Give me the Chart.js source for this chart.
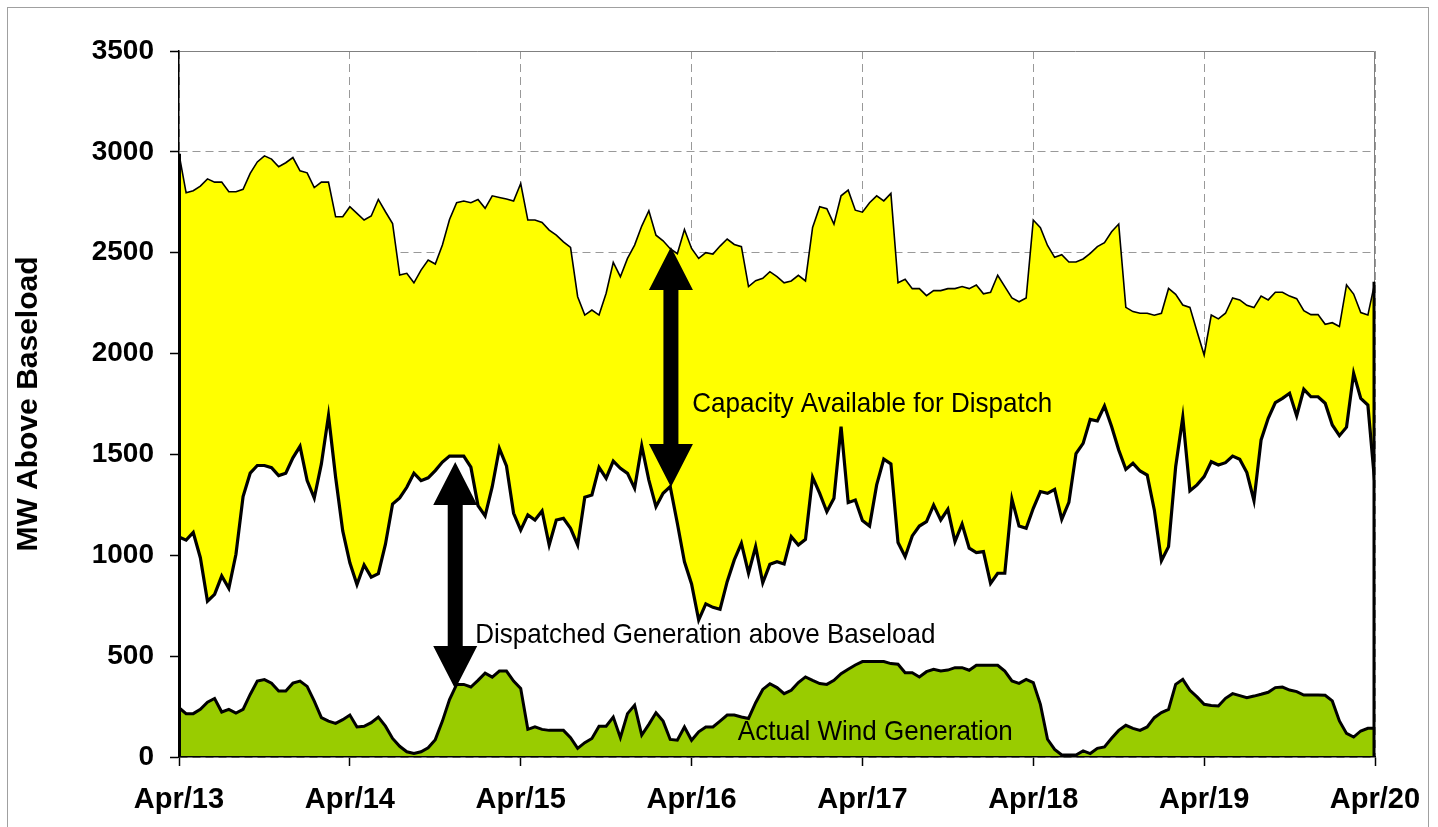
<!DOCTYPE html>
<html lang="en">
<head>
<meta charset="UTF-8">
<title>MW Above Baseload</title>
<style>
  body { margin: 0; background: #fff; }
  #wrap { width: 1438px; height: 827px; }
</style>
</head>
<body>
<div id="wrap"><canvas id="chart" width="1438" height="827"></canvas></div>
<script src="https://cdn.jsdelivr.net/npm/chart.js@4"></script>
<script>
// day labels for the x axis (one tick every 24 hours)
const dayLabels = ['Apr/13', 'Apr/14', 'Apr/15', 'Apr/16', 'Apr/17', 'Apr/18', 'Apr/19', 'Apr/20'];

// hourly values, hour 0 .. 168
const capacity = [
  2990, 2797, 2807, 2830, 2866, 2850, 2850, 2802, 2802, 2814, 2893, 2950, 2980, 2964, 2926, 2946, 2972, 2906, 2896, 2823, 2850, 2850, 2678, 2678, 2728,
  2695, 2662, 2682, 2764, 2703, 2645, 2389, 2398, 2351, 2414, 2464, 2444, 2538, 2665, 2748, 2756, 2748, 2764, 2720, 2782, 2774, 2766, 2756, 2843,
  2662, 2662, 2650, 2612, 2587, 2554, 2526, 2282, 2191, 2216, 2191, 2299, 2452, 2381, 2472, 2538, 2632, 2708, 2587, 2559, 2520, 2495, 2615, 2521,
  2472, 2500, 2493, 2533, 2568, 2541, 2530, 2332, 2361, 2373, 2406, 2381, 2351, 2360, 2388, 2360, 2625, 2728, 2718, 2642, 2782, 2810, 2711, 2701,
  2748, 2782, 2757, 2794, 2351, 2368, 2322, 2322, 2287, 2312, 2312, 2322, 2322, 2332, 2322, 2340, 2296, 2304, 2388, 2332, 2276, 2257, 2276, 2662,
  2624, 2536, 2477, 2490, 2454, 2454, 2469, 2497, 2530, 2550, 2604, 2642, 2229, 2208, 2200, 2200, 2190, 2200, 2323, 2294, 2241, 2229, 2109, 1993,
  2191, 2172, 2200, 2276, 2266, 2239, 2228, 2285, 2266, 2304, 2304, 2285, 2272, 2213, 2193, 2193, 2145, 2153, 2134, 2340, 2295, 2203, 2191, 2356
];

const dispatched = [
  1091, 1075, 1113, 988, 772, 806, 897, 836, 1005, 1291, 1407, 1445, 1445, 1434, 1395, 1407, 1483, 1540, 1370, 1284, 1453, 1693, 1387, 1121, 963,
  855, 952, 892, 909, 1055, 1254, 1284, 1337, 1407, 1370, 1384, 1420, 1462, 1492, 1492, 1492, 1437, 1246, 1195, 1340, 1530, 1443, 1208, 1125,
  1200, 1175, 1220, 1051, 1175, 1183, 1134, 1051, 1288, 1299, 1436, 1382, 1467, 1431, 1406, 1332, 1542, 1373, 1241, 1307, 1340, 1159, 968, 858,
  679, 759, 742, 732, 869, 977, 1059, 911, 1043, 864, 955, 968, 957, 1092, 1051, 1079, 1387, 1307, 1216, 1283, 1638, 1261, 1274, 1172,
  1145, 1349, 1477, 1453, 1063, 993, 1096, 1145, 1167, 1249, 1175, 1228, 1068, 1155, 1035, 1013, 1018, 861, 911, 911, 1278, 1145, 1134, 1233,
  1316, 1307, 1327, 1178, 1262, 1504, 1555, 1674, 1666, 1740, 1638, 1522, 1426, 1456, 1418, 1398, 1225, 973, 1043, 1439, 1684, 1320, 1349, 1390,
  1464, 1448, 1459, 1492, 1476, 1410, 1271, 1572, 1679, 1757, 1778, 1803, 1691, 1823, 1786, 1786, 1754, 1646, 1593, 1635, 1902, 1778, 1745, 1345
];

const wind = [
  244, 215, 215, 236, 272, 290, 223, 236, 218, 236, 310, 376, 384, 366, 327, 327, 366, 376, 350, 277, 195, 178, 167, 185, 208,
  149, 152, 170, 198, 153, 92, 53, 26, 17, 26, 46, 86, 178, 285, 360, 360, 347, 380, 416, 396, 426, 426, 376, 340,
  137, 149, 137, 132, 132, 132, 96, 43, 71, 92, 153, 153, 198, 96, 215, 257, 109, 162, 219, 178, 87, 83, 149, 83,
  125, 149, 149, 178, 208, 208, 198, 191, 269, 335, 363, 344, 314, 331, 369, 397, 380, 364, 360, 380, 413, 435, 456, 473,
  473, 473, 473, 463, 460, 418, 418, 397, 423, 435, 426, 431, 443, 443, 430, 455, 455, 455, 455, 426, 377, 365, 385, 369,
  261, 88, 38, 10, 10, 10, 30, 17, 43, 50, 93, 132, 157, 142, 132, 149, 195, 220, 236, 360, 385, 331, 298, 261,
  255, 253, 291, 314, 304, 294, 302, 311, 321, 344, 347, 332, 324, 307, 307, 307, 306, 278, 179, 117, 99, 129, 142, 142
];

const hours = capacity.map((v, i) => i);

// annotation arrows and texts, in data units (hour, MW)
const arrows = [
  { hour: 69.1, top: 2528, bottom: 1339 },
  { hour: 38.8, top: 1463, bottom: 337 }
];
const notes = [
  { text: 'Capacity Available for Dispatch', hour: 72.1, mw: 1710 },
  { text: 'Dispatched Generation above Baseload', hour: 41.6, mw: 565 },
  { text: 'Actual Wind Generation', hour: 78.5, mw: 84 }
];

const FONT = '"Liberation Sans", Arial, Helvetica, sans-serif';
Chart.defaults.font.family = FONT;
Chart.defaults.color = '#000';

const decor = {
  id: 'decor',
  beforeDatasetsDraw(chart) {
    const { ctx, chartArea: a } = chart;
    ctx.save();
    ctx.strokeStyle = '#808080';
    ctx.lineWidth = 1;
    ctx.beginPath();
    ctx.moveTo(a.left, a.top + 0.5);
    ctx.lineTo(a.right - 0.5, a.top + 0.5);
    ctx.lineTo(a.right - 0.5, a.bottom);
    ctx.stroke();
    ctx.restore();
  },
  afterDatasetsDraw(chart) {
    const { ctx, scales: { x, y } } = chart;
    ctx.save();
    // closing edges of the area shapes
    ctx.strokeStyle = '#000';
    ctx.lineWidth = 3;
    const last = capacity.length - 1;
    ctx.beginPath();
    ctx.moveTo(x.getPixelForValue(last) - 1, y.getPixelForValue(capacity[last]));
    ctx.lineTo(x.getPixelForValue(last) - 1, y.getPixelForValue(0));
    ctx.stroke();
    ctx.lineWidth = 2;
    ctx.beginPath();
    ctx.moveTo(x.getPixelForValue(0) + 1, y.getPixelForValue(capacity[0]));
    ctx.lineTo(x.getPixelForValue(0) + 1, y.getPixelForValue(0));
    ctx.stroke();

    // double headed arrows
    ctx.fillStyle = '#000';
    arrows.forEach(a => {
      const cx = x.getPixelForValue(a.hour);
      const t = y.getPixelForValue(a.top);
      const b = y.getPixelForValue(a.bottom);
      const hh = 43, hw = 22, sw = 7.5;
      ctx.beginPath();
      ctx.moveTo(cx, t);
      ctx.lineTo(cx + hw, t + hh);
      ctx.lineTo(cx + sw, t + hh);
      ctx.lineTo(cx + sw, b - hh);
      ctx.lineTo(cx + hw, b - hh);
      ctx.lineTo(cx, b);
      ctx.lineTo(cx - hw, b - hh);
      ctx.lineTo(cx - sw, b - hh);
      ctx.lineTo(cx - sw, t + hh);
      ctx.lineTo(cx - hw, t + hh);
      ctx.closePath();
      ctx.fill();
    });

    // texts
    ctx.font = '28px ' + FONT;
    ctx.textBaseline = 'alphabetic';
    ctx.textAlign = 'left';
    notes.forEach(n => {
      ctx.save();
      ctx.translate(x.getPixelForValue(n.hour), y.getPixelForValue(n.mw));
      ctx.scale(0.93, 1);
      ctx.fillText(n.text, 0, 0);
      ctx.restore();
    });
    ctx.restore();
  },
  afterDraw(chart) {
    const { ctx } = chart;
    ctx.save();
    ctx.strokeStyle = '#a0a0a0';
    ctx.lineWidth = 1;
    ctx.strokeRect(7.5, 7.5, 1421, 900);
    ctx.restore();
  }
};

const gridOpts = { color: '#999', lineWidth: 1, tickLength: 9, tickColor: '#000', tickWidth: 1.5 };
const borderOpts = { color: '#000', width: 1.5, dash: [8, 5], z: 1 };

new Chart(document.getElementById('chart'), {
  type: 'line',
  data: {
    labels: hours,
    datasets: [
      {
        label: 'Actual Wind Generation',
        data: wind,
        borderColor: '#000',
        borderWidth: 3,
        backgroundColor: '#99CC00',
        fill: 'origin',
        pointRadius: 0,
        tension: 0
      },
      {
        label: 'Dispatched Generation above Baseload',
        data: dispatched,
        borderColor: '#000',
        borderWidth: 3.2,
        backgroundColor: '#FFFFFF',
        fill: 'origin',
        pointRadius: 0,
        tension: 0
      },
      {
        label: 'Capacity Available for Dispatch',
        data: capacity,
        borderColor: '#000',
        borderWidth: 1.6,
        backgroundColor: '#FFFF00',
        fill: 'origin',
        pointRadius: 0,
        tension: 0
      }
    ]
  },
  options: {
    responsive: false,
    animation: false,
    events: [],
    layout: { padding: { top: 51, right: 63, left: 0, bottom: 0 } },
    plugins: {
      legend: { display: false },
      tooltip: { enabled: false }
    },
    scales: {
      x: {
        type: 'linear',
        min: 0,
        max: 168,
        grid: gridOpts,
        border: borderOpts,
        ticks: {
          stepSize: 24,
          autoSkip: false,
          maxRotation: 0,
          padding: 17,
          font: { size: 29, weight: 'bold' },
          callback: v => dayLabels[v / 24]
        },
        afterFit: s => { s.height = 70; }
      },
      y: {
        min: 0,
        max: 3500,
        grid: gridOpts,
        border: borderOpts,
        ticks: {
          stepSize: 500,
          padding: 16,
          font: { size: 28, weight: 'bold' },
          callback: v => String(v)
        },
        title: {
          display: true,
          text: 'MW Above Baseload',
          font: { size: 30, weight: 'bold' },
          padding: { top: 11, bottom: 0 }
        },
        afterFit: s => { s.width = 179; }
      }
    }
  },
  plugins: [decor]
});
</script>
</body>
</html>
